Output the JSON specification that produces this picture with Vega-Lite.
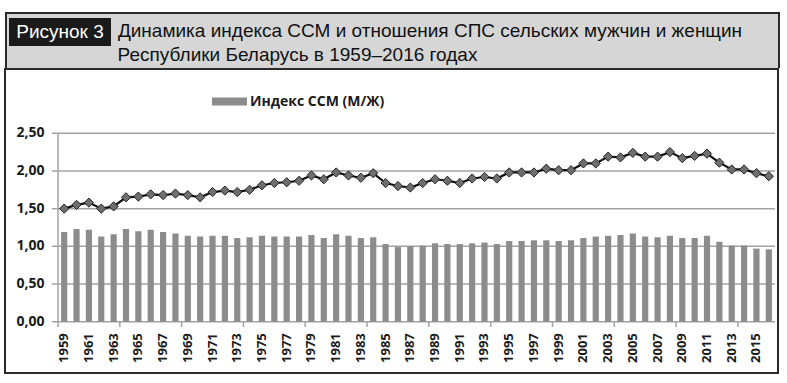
{
  "$schema": "https://vega.github.io/schema/vega-lite/v6.json",
  "background": "white",
  "padding": {"left": 4, "top": 12, "right": 0, "bottom": 0},
  "config": {
    "view": {"stroke": null},
    "font": "Open Sans"
  },
  "datasets": {
    "main": [
      {"year": 1959, "ssm": 1.19, "sps": 1.50},
      {"year": 1960, "ssm": 1.23, "sps": 1.55},
      {"year": 1961, "ssm": 1.22, "sps": 1.58},
      {"year": 1962, "ssm": 1.13, "sps": 1.50},
      {"year": 1963, "ssm": 1.16, "sps": 1.53},
      {"year": 1964, "ssm": 1.23, "sps": 1.65},
      {"year": 1965, "ssm": 1.20, "sps": 1.66},
      {"year": 1966, "ssm": 1.22, "sps": 1.69},
      {"year": 1967, "ssm": 1.19, "sps": 1.68},
      {"year": 1968, "ssm": 1.17, "sps": 1.70},
      {"year": 1969, "ssm": 1.14, "sps": 1.68},
      {"year": 1970, "ssm": 1.13, "sps": 1.65},
      {"year": 1971, "ssm": 1.14, "sps": 1.72},
      {"year": 1972, "ssm": 1.14, "sps": 1.74},
      {"year": 1973, "ssm": 1.11, "sps": 1.72},
      {"year": 1974, "ssm": 1.12, "sps": 1.75},
      {"year": 1975, "ssm": 1.14, "sps": 1.81},
      {"year": 1976, "ssm": 1.13, "sps": 1.84},
      {"year": 1977, "ssm": 1.13, "sps": 1.85},
      {"year": 1978, "ssm": 1.13, "sps": 1.87},
      {"year": 1979, "ssm": 1.15, "sps": 1.94},
      {"year": 1980, "ssm": 1.11, "sps": 1.89},
      {"year": 1981, "ssm": 1.16, "sps": 1.98},
      {"year": 1982, "ssm": 1.14, "sps": 1.94},
      {"year": 1983, "ssm": 1.11, "sps": 1.91},
      {"year": 1984, "ssm": 1.12, "sps": 1.97},
      {"year": 1985, "ssm": 1.03, "sps": 1.84},
      {"year": 1986, "ssm": 0.99, "sps": 1.80},
      {"year": 1987, "ssm": 1.00, "sps": 1.78},
      {"year": 1988, "ssm": 1.01, "sps": 1.84},
      {"year": 1989, "ssm": 1.04, "sps": 1.89},
      {"year": 1990, "ssm": 1.03, "sps": 1.87},
      {"year": 1991, "ssm": 1.03, "sps": 1.84},
      {"year": 1992, "ssm": 1.04, "sps": 1.90},
      {"year": 1993, "ssm": 1.05, "sps": 1.92},
      {"year": 1994, "ssm": 1.03, "sps": 1.90},
      {"year": 1995, "ssm": 1.07, "sps": 1.98},
      {"year": 1996, "ssm": 1.07, "sps": 1.98},
      {"year": 1997, "ssm": 1.08, "sps": 1.98},
      {"year": 1998, "ssm": 1.08, "sps": 2.03},
      {"year": 1999, "ssm": 1.07, "sps": 2.01},
      {"year": 2000, "ssm": 1.08, "sps": 2.01},
      {"year": 2001, "ssm": 1.11, "sps": 2.10},
      {"year": 2002, "ssm": 1.13, "sps": 2.10},
      {"year": 2003, "ssm": 1.14, "sps": 2.19},
      {"year": 2004, "ssm": 1.15, "sps": 2.18},
      {"year": 2005, "ssm": 1.17, "sps": 2.24},
      {"year": 2006, "ssm": 1.13, "sps": 2.19},
      {"year": 2007, "ssm": 1.12, "sps": 2.19},
      {"year": 2008, "ssm": 1.14, "sps": 2.25},
      {"year": 2009, "ssm": 1.11, "sps": 2.17},
      {"year": 2010, "ssm": 1.11, "sps": 2.20},
      {"year": 2011, "ssm": 1.14, "sps": 2.23},
      {"year": 2012, "ssm": 1.06, "sps": 2.11},
      {"year": 2013, "ssm": 1.01, "sps": 2.02},
      {"year": 2014, "ssm": 1.01, "sps": 2.02},
      {"year": 2015, "ssm": 0.97, "sps": 1.97},
      {"year": 2016, "ssm": 0.96, "sps": 1.93}
    ],
    "one": [{"k": 1}],
    "none": [],
    "grid": [
      {"v": 0, "label": "0,00"},
      {"v": 0.5, "label": "0,50"},
      {"v": 1, "label": "1,00"},
      {"v": 1.5, "label": "1,50"},
      {"v": 2, "label": "2,00"},
      {"v": 2.5, "label": "2,50"}
    ],
    "xticks": [
      {"year": 1959}, {"year": 1964}, {"year": 1969}, {"year": 1974}, {"year": 1979}, {"year": 1984},
      {"year": 1989}, {"year": 1994}, {"year": 1999}, {"year": 2004}, {"year": 2009}, {"year": 2014}
    ]
  },
  "spacing": 0,
  "resolve": {"legend": {"color": "independent"}},
  "vconcat": [
    {
      "data": {"name": "none"}, "mark": {"type": "text"}, "encoding": {"text": {"value": ""}},
      "width": 775, "height": 2, "view": {"fill": "#2b2b2b", "stroke": null}
    },
    {
      "spacing": 0,
      "hconcat": [
        {"data": {"name": "none"}, "mark": {"type": "text"}, "encoding": {"text": {"value": ""}},
         "width": 2, "height": 54, "view": {"fill": "#2b2b2b", "stroke": null}},
        {"data": {"name": "none"}, "mark": {"type": "text"}, "encoding": {"text": {"value": ""}},
         "width": 2, "height": 54, "view": {"fill": "#d6d6d6", "stroke": null}},
        {
          "spacing": 0,
          "vconcat": [
            {"data": {"name": "none"}, "mark": {"type": "text"}, "encoding": {"text": {"value": ""}},
             "width": 102, "height": 4, "view": {"fill": "#d6d6d6", "stroke": null}},
            {"data": {"name": "one"},
             "mark": {"type": "text", "color": "white", "font": "Liberation Sans", "fontSize": 19, "align": "center", "baseline": "middle"},
             "encoding": {"text": {"value": "Рисунок 3"}},
             "width": 102, "height": 28, "view": {"fill": "#1a1a1a", "stroke": null}},
            {"data": {"name": "none"}, "mark": {"type": "text"}, "encoding": {"text": {"value": ""}},
             "width": 102, "height": 22, "view": {"fill": "#d6d6d6", "stroke": null}}
          ]
        },
        {
          "spacing": 0,
          "vconcat": [
            {"data": {"name": "none"}, "mark": {"type": "text"}, "encoding": {"text": {"value": ""}},
             "width": 667, "height": 5, "view": {"fill": "#d6d6d6", "stroke": null}},
            {
              "spacing": 0,
              "hconcat": [
                {"data": {"name": "none"}, "mark": {"type": "text"}, "encoding": {"text": {"value": ""}},
                 "width": 6, "height": 24, "view": {"fill": "#d6d6d6", "stroke": null}},
                {"data": {"name": "one"},
                 "mark": {"type": "text", "color": "#111111", "font": "Liberation Sans", "fontSize": 19, "align": "center", "baseline": "middle"},
                 "encoding": {"text": {"value": "Динамика индекса ССМ и отношения СПС сельских мужчин и женщин"}},
                 "width": 626, "height": 24, "view": {"fill": "#d6d6d6", "stroke": null}},
                {"data": {"name": "none"}, "mark": {"type": "text"}, "encoding": {"text": {"value": ""}},
                 "width": 35, "height": 24, "view": {"fill": "#d6d6d6", "stroke": null}}
              ]
            },
            {
              "spacing": 0,
              "hconcat": [
                {"data": {"name": "none"}, "mark": {"type": "text"}, "encoding": {"text": {"value": ""}},
                 "width": 6, "height": 24, "view": {"fill": "#d6d6d6", "stroke": null}},
                {"data": {"name": "one"},
                 "mark": {"type": "text", "color": "#111111", "font": "Liberation Sans", "fontSize": 19, "align": "center", "baseline": "middle"},
                 "encoding": {"text": {"value": "Республики Беларусь в 1959–2016 годах"}},
                 "width": 361, "height": 24, "view": {"fill": "#d6d6d6", "stroke": null}},
                {"data": {"name": "none"}, "mark": {"type": "text"}, "encoding": {"text": {"value": ""}},
                 "width": 300, "height": 24, "view": {"fill": "#d6d6d6", "stroke": null}}
              ]
            },
            {"data": {"name": "none"}, "mark": {"type": "text"}, "encoding": {"text": {"value": ""}},
             "width": 667, "height": 1, "view": {"fill": "#d6d6d6", "stroke": null}}
          ]
        },
        {"data": {"name": "none"}, "mark": {"type": "text"}, "encoding": {"text": {"value": ""}},
         "width": 2, "height": 54, "view": {"fill": "#2b2b2b", "stroke": null}}
      ]
    },
    {
      "width": 773,
      "height": 304,
      "view": {"fill": "white", "stroke": "#2b2b2b", "strokeWidth": 2},
      "data": {"name": "main"},
      "resolve": {"axis": {"x": "independent"}},
      "layer": [
        {
          "data": {"name": "grid"},
          "mark": {"type": "rule", "color": "#a3a3a3", "strokeWidth": 1.5},
          "encoding": {
            "y": {
              "field": "v", "type": "quantitative",
              "scale": {"domain": [-0.681, 3.353], "nice": false, "zero": false},
              "axis": null
            },
            "x": {
              "datum": 1959, "type": "ordinal", "bandPosition": -0.5,
              "scale": {"range": [53, 770], "paddingInner": 0, "paddingOuter": 0},
              "axis": null
            },
            "x2": {"datum": 2016, "bandPosition": 1}
          }
        },
        {
          "data": {"name": "grid"},
          "mark": {"type": "text", "align": "right", "baseline": "middle", "font": "Open Sans", "fontSize": 14, "fontWeight": "bold", "color": "#1a1a1a"},
          "encoding": {
            "y": {"field": "v", "type": "quantitative", "axis": null},
            "x": {"datum": 1959, "type": "ordinal", "bandPosition": -1.1, "axis": null},
            "text": {"field": "label"}
          }
        },
        {
          "data": {"name": "one"},
          "mark": {"type": "rule", "color": "#a3a3a3", "strokeWidth": 1.5},
          "encoding": {
            "x": {"datum": 1959, "type": "ordinal", "bandPosition": 0, "axis": null},
            "y": {"datum": 0, "type": "quantitative", "axis": null},
            "y2": {"datum": 2.5}
          }
        },
        {
          "data": {"name": "xticks"},
          "mark": {"type": "rule", "color": "#a3a3a3", "strokeWidth": 1.5},
          "encoding": {
            "x": {"field": "year", "type": "ordinal", "bandPosition": 0, "axis": null},
            "y": {"datum": 0, "type": "quantitative", "axis": null},
            "y2": {"datum": -0.07}
          }
        },
        {
          "mark": {"type": "bar", "width": {"band": 0.5}, "color": "#8c8c8c"},
          "encoding": {
            "x": {
              "field": "year", "type": "ordinal",
              "axis": {
                "title": null, "orient": "bottom", "offset": -51.3, "zindex": 1,
                "values": [1959, 1961, 1963, 1965, 1967, 1969, 1971, 1973, 1975, 1977, 1979, 1981, 1983, 1985, 1987, 1989, 1991, 1993, 1995, 1997, 1999, 2001, 2003, 2005, 2007, 2009, 2011, 2013, 2015],
                "labelAngle": -90, "labelAlign": "right", "labelBaseline": "middle",
                "ticks": false, "domain": false, "grid": false, "labelPadding": 11,
                "labelFont": "Open Sans", "labelFontSize": 13, "labelFontWeight": "bold", "labelColor": "#1a1a1a"
              }
            },
            "y": {"field": "ssm", "type": "quantitative", "axis": null},
            "y2": {"datum": 0},
            "color": {
              "datum": "Индекс ССМ (М/Ж)", "type": "nominal",
              "scale": {"range": ["#8c8c8c"]},
              "legend": {
                "orient": "none", "legendX": 207, "legendY": 15, "title": null,
                "symbolType": "M-1,-0.23L1,-0.23L1,0.23L-1,0.23Z", "symbolSize": 1225, "symbolStrokeWidth": 0,
                "labelFont": "Open Sans", "labelFontSize": 14, "labelFontWeight": "bold", "labelColor": "#1a1a1a", "labelOffset": 3
              }
            }
          }
        },
        {
          "mark": {"type": "line", "color": "#111111", "strokeWidth": 2.2},
          "encoding": {
            "x": {"field": "year", "type": "ordinal", "axis": null},
            "y": {"field": "sps", "type": "quantitative", "axis": null}
          }
        },
        {
          "mark": {"type": "point", "shape": "diamond", "size": 85, "filled": true, "fill": "#6e6e6e", "stroke": "#222222", "strokeWidth": 1, "opacity": 1},
          "encoding": {
            "x": {"field": "year", "type": "ordinal", "axis": null},
            "y": {"field": "sps", "type": "quantitative", "axis": null}
          }
        }
      ]
    }
  ]
}
